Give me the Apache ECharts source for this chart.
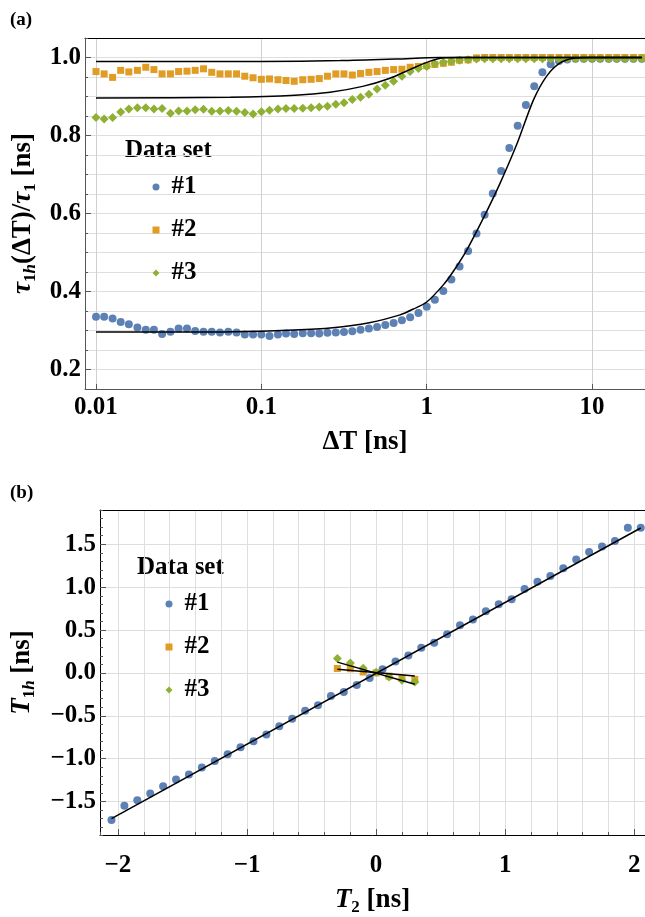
<!DOCTYPE html>
<html><head><meta charset="utf-8">
<script src="https://cdn.jsdelivr.net/npm/echarts@6/dist/echarts.min.js"></script>
<style>html,body{margin:0;padding:0;background:#fff}#c{width:645px;height:917px}</style>
</head><body><div id="c"></div>
<script>
// ---------- Panel (a) data ----------
const dT = [0.01,0.0112,0.0126,0.0141,0.0158,0.0178,0.02,0.0224,0.0251,0.0282,
  0.0316,0.0355,0.0398,0.0447,0.0501,0.0562,0.0631,0.0708,0.0794,0.0891,
  0.1,0.112,0.126,0.141,0.158,0.178,0.2,0.224,0.251,0.282,
  0.316,0.355,0.398,0.447,0.501,0.562,0.631,0.708,0.794,0.891,
  1,1.12,1.26,1.41,1.58,1.78,2,2.24,2.51,2.82,
  3.16,3.55,3.98,4.47,5.01,5.62,6.31,7.08,7.94,8.91,
  10,11.2,12.6,14.1,15.8,17.8,20];
const ratioSet1 = [0.335,0.335,0.331,0.322,0.316,0.308,0.302,0.302,0.291,0.297,
  0.305,0.305,0.299,0.297,0.297,0.295,0.297,0.295,0.290,0.290,
  0.290,0.286,0.290,0.292,0.291,0.293,0.293,0.292,0.294,0.295,
  0.296,0.298,0.302,0.305,0.309,0.314,0.319,0.326,0.334,0.345,
  0.361,0.379,0.401,0.431,0.464,0.504,0.549,0.597,0.651,0.709,
  0.768,0.825,0.878,0.926,0.962,0.983,0.991,0.995,0.997,0.997,
  0.997,0.997,0.997,0.997,0.997,0.997,0.997];
const ratioSet2 = [0.964,0.958,0.949,0.967,0.963,0.967,0.975,0.969,0.958,0.958,
  0.964,0.965,0.967,0.971,0.962,0.958,0.958,0.958,0.952,0.948,
  0.944,0.945,0.943,0.941,0.939,0.943,0.944,0.946,0.952,0.958,
  0.958,0.955,0.959,0.962,0.964,0.967,0.969,0.970,0.975,0.977,
  0.979,0.982,0.985,0.988,0.993,0.994,0.999,1.0,1.0,1.0,
  1.0,1.0,1.0,1.0,1.0,1.0,1.0,1.0,1.0,1.0,
  1.0,1.0,1.0,1.0,1.0,1.0,1.0];
const ratioSet3 = [0.846,0.842,0.846,0.860,0.868,0.871,0.871,0.868,0.869,0.857,
  0.863,0.863,0.866,0.867,0.862,0.863,0.864,0.862,0.859,0.855,
  0.861,0.865,0.868,0.869,0.869,0.870,0.871,0.873,0.875,0.880,
  0.884,0.892,0.898,0.906,0.919,0.929,0.939,0.952,0.964,0.972,
  0.977,0.984,0.987,0.990,0.993,0.994,0.996,0.997,0.997,0.997,
  0.997,0.997,0.997,0.997,0.997,0.997,0.997,0.997,0.997,0.997,
  0.997,0.997,0.997,0.997,0.997,0.997,0.997];
// fit curves
const fit1X = [0.01,0.05,0.1,0.2,0.3,0.4,0.5,0.69,0.83,1.0,1.26,1.45,1.75,2.2,2.78,3.51,4.43,5.33,6.41,7.72,9.5,20];
const fit1Y = [0.296,0.296,0.298,0.303,0.309,0.316,0.324,0.340,0.355,0.373,0.417,0.452,0.507,0.588,0.678,0.778,0.892,0.953,0.986,0.998,1.0,1.0];
const fit2X = [0.01,0.1,0.3,0.65,1.2,20];
const fit2Y = [0.990,0.990,0.992,0.996,1.0,1.0];
const fit3X = [0.01,0.065,0.16,0.26,0.41,0.6,0.79,1.04,1.25,1.6,20];
const fit3Y = [0.896,0.898,0.903,0.911,0.926,0.947,0.969,0.990,0.999,1.0,1.0];

// ---------- Panel (b) data ----------
const t2Set1 = [-2.05,-1.95,-1.85,-1.75,-1.65,-1.55,-1.45,-1.35,-1.25,-1.15,
  -1.05,-0.95,-0.85,-0.75,-0.65,-0.55,-0.45,-0.35,-0.25,-0.15,
  -0.05,0.05,0.15,0.25,0.35,0.45,0.55,0.65,0.75,0.85,
  0.95,1.05,1.15,1.25,1.35,1.45,1.55,1.65,1.75,1.85,1.95,2.05];
const t1hSet1 = [-1.714,-1.55,-1.484,-1.407,-1.322,-1.244,-1.185,-1.103,-1.026,-0.948,
  -0.866,-0.796,-0.718,-0.622,-0.533,-0.44,-0.378,-0.27,-0.222,-0.14,
  -0.059,0.044,0.133,0.204,0.293,0.352,0.452,0.556,0.622,0.719,
  0.80,0.86,0.978,1.063,1.13,1.222,1.322,1.411,1.474,1.538,1.693,1.693];
const t2Set23 = [-0.3,-0.2,-0.1,0.0,0.1,0.2,0.3];
const t1hSet2 = [0.052,0.049,0.011,0.0,-0.037,-0.059,-0.075];
const t1hSet3 = [0.167,0.115,0.056,0.008,-0.048,-0.085,-0.107];
const lineB1X = [-2.05,2.05], lineB1Y = [-1.70,1.69];
const lineB2X = [-0.3,0.3],  lineB2Y = [0.044,-0.037];
const lineB3X = [-0.3,0.3],  lineB3Y = [0.126,-0.133];

const legendNames = ['#1','#2','#3'];

// ---------- styling ----------
const FONT = 'Liberation Serif';
const COLORS = ['#5E81B5','#E19C24','#8FB032'];
const SYMS = ['circle','rect','diamond'];
const SIZES = [8,7,9];
const zip = (xs, ys) => xs.map((x,i)=>[x, ys[i]]);
const minus = s => s.replace('-', '\u2212');
const AX = '#555', GRID = '#dedede';
const labelStyle = {fontFamily:FONT, fontWeight:'bold', fontSize:25, color:'#000'};
const rich = {
  t:{fontFamily:FONT, fontWeight:'bold', fontSize:27, color:'#000', lineHeight:32},
  ti:{fontFamily:FONT, fontWeight:'bold', fontStyle:'italic', fontSize:27, color:'#000', lineHeight:32},
  s:{fontFamily:FONT, fontWeight:'bold', fontSize:17, color:'#000', verticalAlign:'bottom', lineHeight:19},
  si:{fontFamily:FONT, fontWeight:'bold', fontStyle:'italic', fontSize:17, color:'#000', verticalAlign:'bottom', lineHeight:19}
};

const chart = echarts.init(document.getElementById('c'), null, {renderer:'canvas'});

const scatter = (name, xi, yi, data, k) => ({
  name, type:'scatter', xAxisIndex:xi, yAxisIndex:yi, data,
  symbol:SYMS[k], symbolSize:SIZES[k], itemStyle:{color:COLORS[k], opacity:1},
  z:2, silent:true, animation:false
});
const fitLine = (xi, yi, data) => ({
  type:'line', xAxisIndex:xi, yAxisIndex:yi, data, showSymbol:false, symbol:'none',
  smooth:0.3, lineStyle:{color:'#000', width:1.5}, z:3, silent:true, animation:false
});

const legendCommon = {
  orient:'vertical', data:legendNames, itemWidth:7, itemHeight:7, itemGap:17,
  textStyle:{fontFamily:FONT, fontWeight:'bold', fontSize:25, color:'#000', lineHeight:26, padding:[0,0,0,7]},
  selectedMode:false, backgroundColor:'transparent'
};
const noZero = {onZero:false};

const option = {
  backgroundColor:'#fff',
  animation:false,
  grid:[
    {left:85, top:38, width:560, height:351, containLabel:false},
    {left:100, top:510, width:545, height:341, containLabel:false}
  ],
  xAxis:[
    { // 0: panel a, log axis
      gridIndex:0, type:'log', logBase:10, min:0.00858, max:20.9,
      position:'bottom',
      name:'ΔT [ns]', nameLocation:'middle', nameGap:40, nameTextStyle:{...labelStyle, fontSize:27},
      axisLine:{...noZero, show:true, lineStyle:{color:AX, width:1}},
      axisTick:{show:true, inside:true, length:5, lineStyle:{color:AX}},
      axisLabel:{...labelStyle, margin:6, showMinLabel:false, showMaxLabel:false,
        formatter:v => v>=1 ? String(Math.round(v)) : String(+v.toPrecision(1))},
      splitLine:{show:true, lineStyle:{color:'#cfcfcf', width:1}},
      minorTick:{show:false}
    },
    { // 1: panel a top frame
      gridIndex:0, type:'value', position:'top', min:0, max:1,
      axisLine:{...noZero, show:true, lineStyle:{color:'#000', width:1}},
      axisTick:{show:false}, axisLabel:{show:false}, splitLine:{show:false}
    },
    { // 2: panel b labels
      gridIndex:1, type:'value', min:-2.139, max:2.083, splitNumber:4, position:'bottom',
      name:'{ti|T}{s|2}{t| [ns]}', nameLocation:'middle', nameGap:49,
      nameTextStyle:{rich},
      axisLine:{...noZero, show:true, lineStyle:{color:'#000', width:1}},
      axisTick:{show:true, inside:true, length:6, lineStyle:{color:AX}},
      axisLabel:{...labelStyle, margin:18, showMinLabel:false, showMaxLabel:false,
        formatter:v => minus(String(v))},
      splitLine:{show:false}
    },
    { // 3: panel b 0.2 grid + small ticks
      gridIndex:1, type:'value', min:-2.139, max:2.083, splitNumber:21, position:'bottom',
      axisLine:{...noZero, show:false},
      axisTick:{show:true, inside:true, length:3, lineStyle:{color:AX}},
      axisLabel:{show:false},
      splitLine:{show:true, lineStyle:{color:GRID, width:1}}
    },
    { // 4: panel b top frame
      gridIndex:1, type:'value', position:'top', min:0, max:1,
      axisLine:{...noZero, show:true, lineStyle:{color:'#000', width:1}},
      axisTick:{show:false}, axisLabel:{show:false}, splitLine:{show:false}
    }
  ],
  yAxis:[
    { // 0: panel a labels
      gridIndex:0, type:'value', position:'left', min:0.15, max:1.05, splitNumber:5,
      name:'{ti|τ}{s|1}{si|h}{t|(ΔT)/}{ti|τ}{s|1}{t| [ns]}', nameLocation:'middle', nameGap:46,
      nameTextStyle:{rich},
      axisLine:{...noZero, show:true, lineStyle:{color:AX, width:1}},
      axisTick:{show:true, inside:true, length:6, lineStyle:{color:AX}},
      axisLabel:{...labelStyle, margin:4, showMinLabel:false, showMaxLabel:false,
        formatter:v => v.toFixed(1)},
      splitLine:{show:false}
    },
    { // 1: panel a 0.05 grid + ticks
      gridIndex:0, type:'value', position:'left', min:0.15, max:1.05, interval:0.05,
      axisLine:{...noZero, show:false},
      axisTick:{show:true, inside:true, length:3, lineStyle:{color:AX}},
      axisLabel:{show:false},
      splitLine:{show:true, lineStyle:{color:GRID, width:1}}
    },
    { // 2: panel b labels
      gridIndex:1, type:'value', position:'left', min:-1.89, max:1.9, splitNumber:8,
      name:'{ti|T}{s|1}{si|h}{t| [ns]}', nameLocation:'middle', nameGap:62,
      nameTextStyle:{rich},
      axisLine:{...noZero, show:true, lineStyle:{color:'#000', width:1}},
      axisTick:{show:true, inside:true, length:6, lineStyle:{color:AX}},
      axisLabel:{...labelStyle, margin:4, showMinLabel:false, showMaxLabel:false,
        formatter:v => minus(v.toFixed(1))},
      splitLine:{show:true, lineStyle:{color:GRID, width:1}}
    },
    { // 3: panel b 0.1 ticks
      gridIndex:1, type:'value', position:'left', min:-1.89, max:1.9, splitNumber:38,
      axisLine:{...noZero, show:false},
      axisTick:{show:true, inside:true, length:3, lineStyle:{color:AX}},
      axisLabel:{show:false},
      splitLine:{show:false}
    }
  ],
  legend:[
    {...legendCommon, left:147.5, top:169},
    {...legendCommon, left:160.5, top:586}
  ],
  graphic:[
    {type:'text', left:10, top:11, style:{text:'(a)', font:'bold 19px "Liberation Serif"', fill:'#000'}},
    {type:'text', left:10, top:484, style:{text:'(b)', font:'bold 19px "Liberation Serif"', fill:'#000'}},
    {type:'text', x:125, y:151, style:{text:'Data set', font:'bold 25px "Liberation Serif"', fill:'#000', verticalAlign:'middle'}},
    {type:'text', x:137, y:568, style:{text:'Data set', font:'bold 25px "Liberation Serif"', fill:'#000', verticalAlign:'middle'}}
  ],
  series:[
    scatter('#1',0,0,zip(dT,ratioSet1),0),
    scatter('#2',0,0,zip(dT,ratioSet2),1),
    scatter('#3',0,0,zip(dT,ratioSet3),2),
    fitLine(0,0,zip(fit1X,fit1Y)),
    fitLine(0,0,zip(fit2X,fit2Y)),
    fitLine(0,0,zip(fit3X,fit3Y)),
    scatter('#1',2,2,zip(t2Set1,t1hSet1),0),
    scatter('#2',2,2,zip(t2Set23,t1hSet2),1),
    scatter('#3',2,2,zip(t2Set23,t1hSet3),2),
    fitLine(2,2,zip(lineB1X,lineB1Y)),
    fitLine(2,2,zip(lineB2X,lineB2Y)),
    fitLine(2,2,zip(lineB3X,lineB3Y))
  ]
};
chart.setOption(option);
</script>
</body></html>
